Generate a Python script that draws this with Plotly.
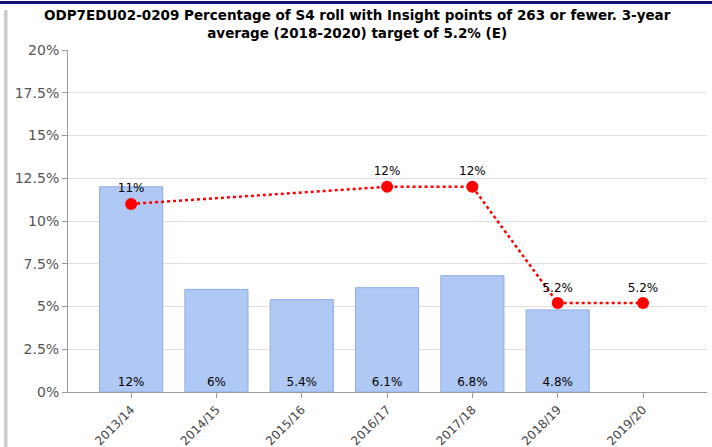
import plotly.graph_objects as go

categories = ["2013/14", "2014/15", "2015/16", "2016/17", "2017/18", "2018/19", "2019/20"]
bar_values = [12, 6, 5.4, 6.1, 6.8, 4.8, None]
line_values = [11, None, None, 12, 12, 5.2, 5.2]
y_ticks = [0, 2.5, 5, 7.5, 10, 12.5, 15, 17.5, 20]
y_tick_labels = ["0%", "2.5%", "5%", "7.5%", "10%", "12.5%", "15%", "17.5%", "20%"]
title_lines = ["ODP7EDU02-0209 Percentage of S4 roll with Insight points of 263 or fewer. 3-year",
               "average (2018-2020) target of 5.2% (E)"]

W, H = 712, 447
ML, MR, MT, MB = 68, 5, 50, 55

idx = list(range(len(categories)))

def fmt(v):
    return "" if v is None else (f"{v:g}%")

fig = go.Figure()
fig.add_trace(go.Bar(
    x=idx, y=bar_values, width=0.74,
    marker=dict(color="rgb(176,200,244)", line=dict(color="rgb(140,172,234)", width=1)),
    text=[fmt(v) for v in bar_values], textposition="inside", insidetextanchor="start",
    textfont=dict(family="DejaVu Sans", size=12, color="#000"),
    textangle=0, cliponaxis=False, showlegend=False, hoverinfo="skip",
))
fig.add_trace(go.Scatter(
    x=idx, y=line_values, mode="lines+markers+text", connectgaps=True,
    line=dict(color="#ff0000", width=2.5, dash="dot"),
    marker=dict(color="#ff0000", size=12),
    text=[fmt(v) for v in line_values], textposition="top center",
    textfont=dict(family="DejaVu Sans", size=12, color="#000"),
    cliponaxis=False, showlegend=False, hoverinfo="skip",
))

pw = W - ML - MR
ph = H - MT - MB
def px2x(p):
    return (p - ML) / pw
def px2y(p):
    return (H - MB - p) / ph

fig.update_layout(
    width=W, height=H,
    margin=dict(l=ML, r=MR, t=MT, b=MB, autoexpand=False),
    paper_bgcolor="white", plot_bgcolor="white",
    font=dict(family="DejaVu Sans", size=12, color="#444"),
    xaxis=dict(
        range=[-0.74, 6.75], tickmode="array", tickvals=idx, ticktext=categories,
        tickangle=-45, showgrid=False, showline=True, linecolor="#999", linewidth=1,
        ticks="outside", ticklen=5, tickcolor="#999", automargin=False,
        tickfont=dict(family="DejaVu Sans", size=12, color="#444"), zeroline=False,
    ),
    yaxis=dict(
        range=[0, 20], tickmode="array", tickvals=y_ticks, ticktext=y_tick_labels,
        showgrid=True, gridcolor="#e0e0e0", gridwidth=1,
        showline=True, linecolor="#999", linewidth=1, automargin=False,
        ticks="outside", ticklen=5, tickcolor="#999",
        tickfont=dict(family="DejaVu Sans", size=14, color="#555"), zeroline=False,
    ),
    bargap=0.26,
)

fig.add_annotation(
    text="<b>" + "<br>".join(title_lines) + "</b>",
    xref="paper", yref="paper", x=px2x(357), y=px2y(5),
    xanchor="center", yanchor="top", showarrow=False, align="center",
    font=dict(family="DejaVu Sans", size=13.5, color="#000"),
)

fig.add_shape(type="line", xref="paper", yref="paper",
              x0=px2x(0), x1=px2x(W), y0=px2y(2.5), y1=px2y(2.5),
              line=dict(color="#10107a", width=3), layer="above")
fig.add_shape(type="rect", xref="paper", yref="paper",
              x0=px2x(4), x1=px2x(7.5), y0=px2y(H), y1=px2y(10),
              fillcolor="#cccccc", line=dict(width=0), layer="above")

post = ("document.body.style.margin='0';document.body.style.overflow='hidden';")

fig.write_html("out.html", config={"displayModeBar": False}, post_script=post)
